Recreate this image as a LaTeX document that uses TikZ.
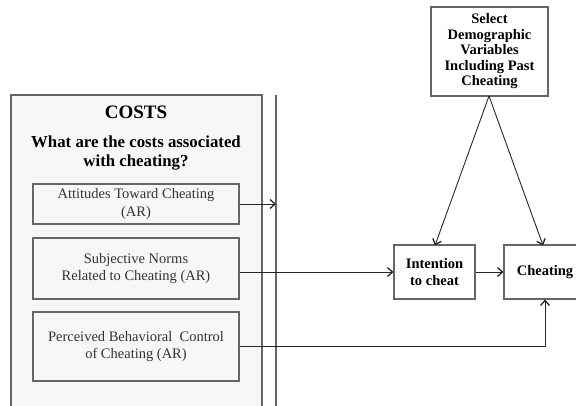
\documentclass[tikz,border=0pt]{standalone}
\usepackage{fontspec}
\setmainfont{Liberation Serif}
\usetikzlibrary{arrows.meta,positioning}
\definecolor{boxgray}{HTML}{666666}
\definecolor{panelfill}{HTML}{F7F7F7}
\definecolor{txtgray}{HTML}{333333}
\tikzset{
  inbox/.style={draw=boxgray, line width=1.1pt, fill=panelfill, minimum width=206pt, align=center, inner sep=2pt, text=txtgray, font=\fontsize{14.5}{17.5}\selectfont},
  mainbox/.style={draw=boxgray, line width=1.1pt, fill=white, align=center, inner sep=1pt, font=\bfseries\fontsize{14.5}{15.5}\selectfont},
  arr/.style={draw=black!85, line width=0.9pt, -{Straight Barb[length=5pt,width=9pt,line width=1.3pt]}},
}
\begin{document}
\begin{tikzpicture}[x=1pt,y=-1pt]
\useasboundingbox (0,0) rectangle (576,406);
\clip (0,0) rectangle (576,406);
% costs panel
\path[fill=panelfill, draw=boxgray, line width=1.6pt] (11,410) -- (11,95) -- (262,95) -- (262,410);
\coordinate (lineTop) at (276,95);
\coordinate (lineBot) at (276,410);
\draw[draw=boxgray, line width=1.4pt] (lineTop) -- (lineBot);
\node[font=\bfseries\fontsize{19}{22}\selectfont, anchor=base] (costs) at (136,119) {COSTS};
\node[font=\bfseries\fontsize{16.8}{19.5}\selectfont, align=center, anchor=base] (question) at (136,167) {What are the costs associated\\with cheating?};
\node[inbox, minimum height=40pt] (att) at (136,204) {Attitudes Toward Cheating\\(AR)};
\node[inbox, minimum height=61pt] (sn) at (136,268.5) {Subjective Norms\\Related to Cheating (AR)};
\node[inbox, minimum height=69pt] (pbc) at (136,346.5) {Perceived Behavioral\ \ Control\\of Cheating (AR)};
% right side
\node[mainbox, minimum width=117pt, minimum height=89pt] (demo) at (489.5,51.5) {Select\\Demographic\\Variables\\Including Past\\Cheating};
\node[mainbox, minimum width=81pt, minimum height=54pt, font=\bfseries\fontsize{14.5}{16.5}\selectfont] (int) at (434.5,272) {Intention\\to cheat};
\node[mainbox, minimum width=82pt, minimum height=54pt] (cheat) at (545,272) {Cheating};
% connectors
\coordinate (attEnd) at (276,204);
\draw[arr] (att.east) -- (attEnd);
\draw[arr] (sn.east |- int.west) -- (int.west);
\coordinate (pbcCorner) at (545,346);
\draw[arr] (pbc.east |- pbcCorner) -- (pbcCorner) -- (cheat.south);
\draw[arr] (int.east) -- (cheat.west);
\coordinate (demoBot) at (489,96);
\draw[arr] (demoBot) -- (435,245.5);
\draw[arr] (demoBot) -- (543,245.5);
\end{tikzpicture}
\end{document}
